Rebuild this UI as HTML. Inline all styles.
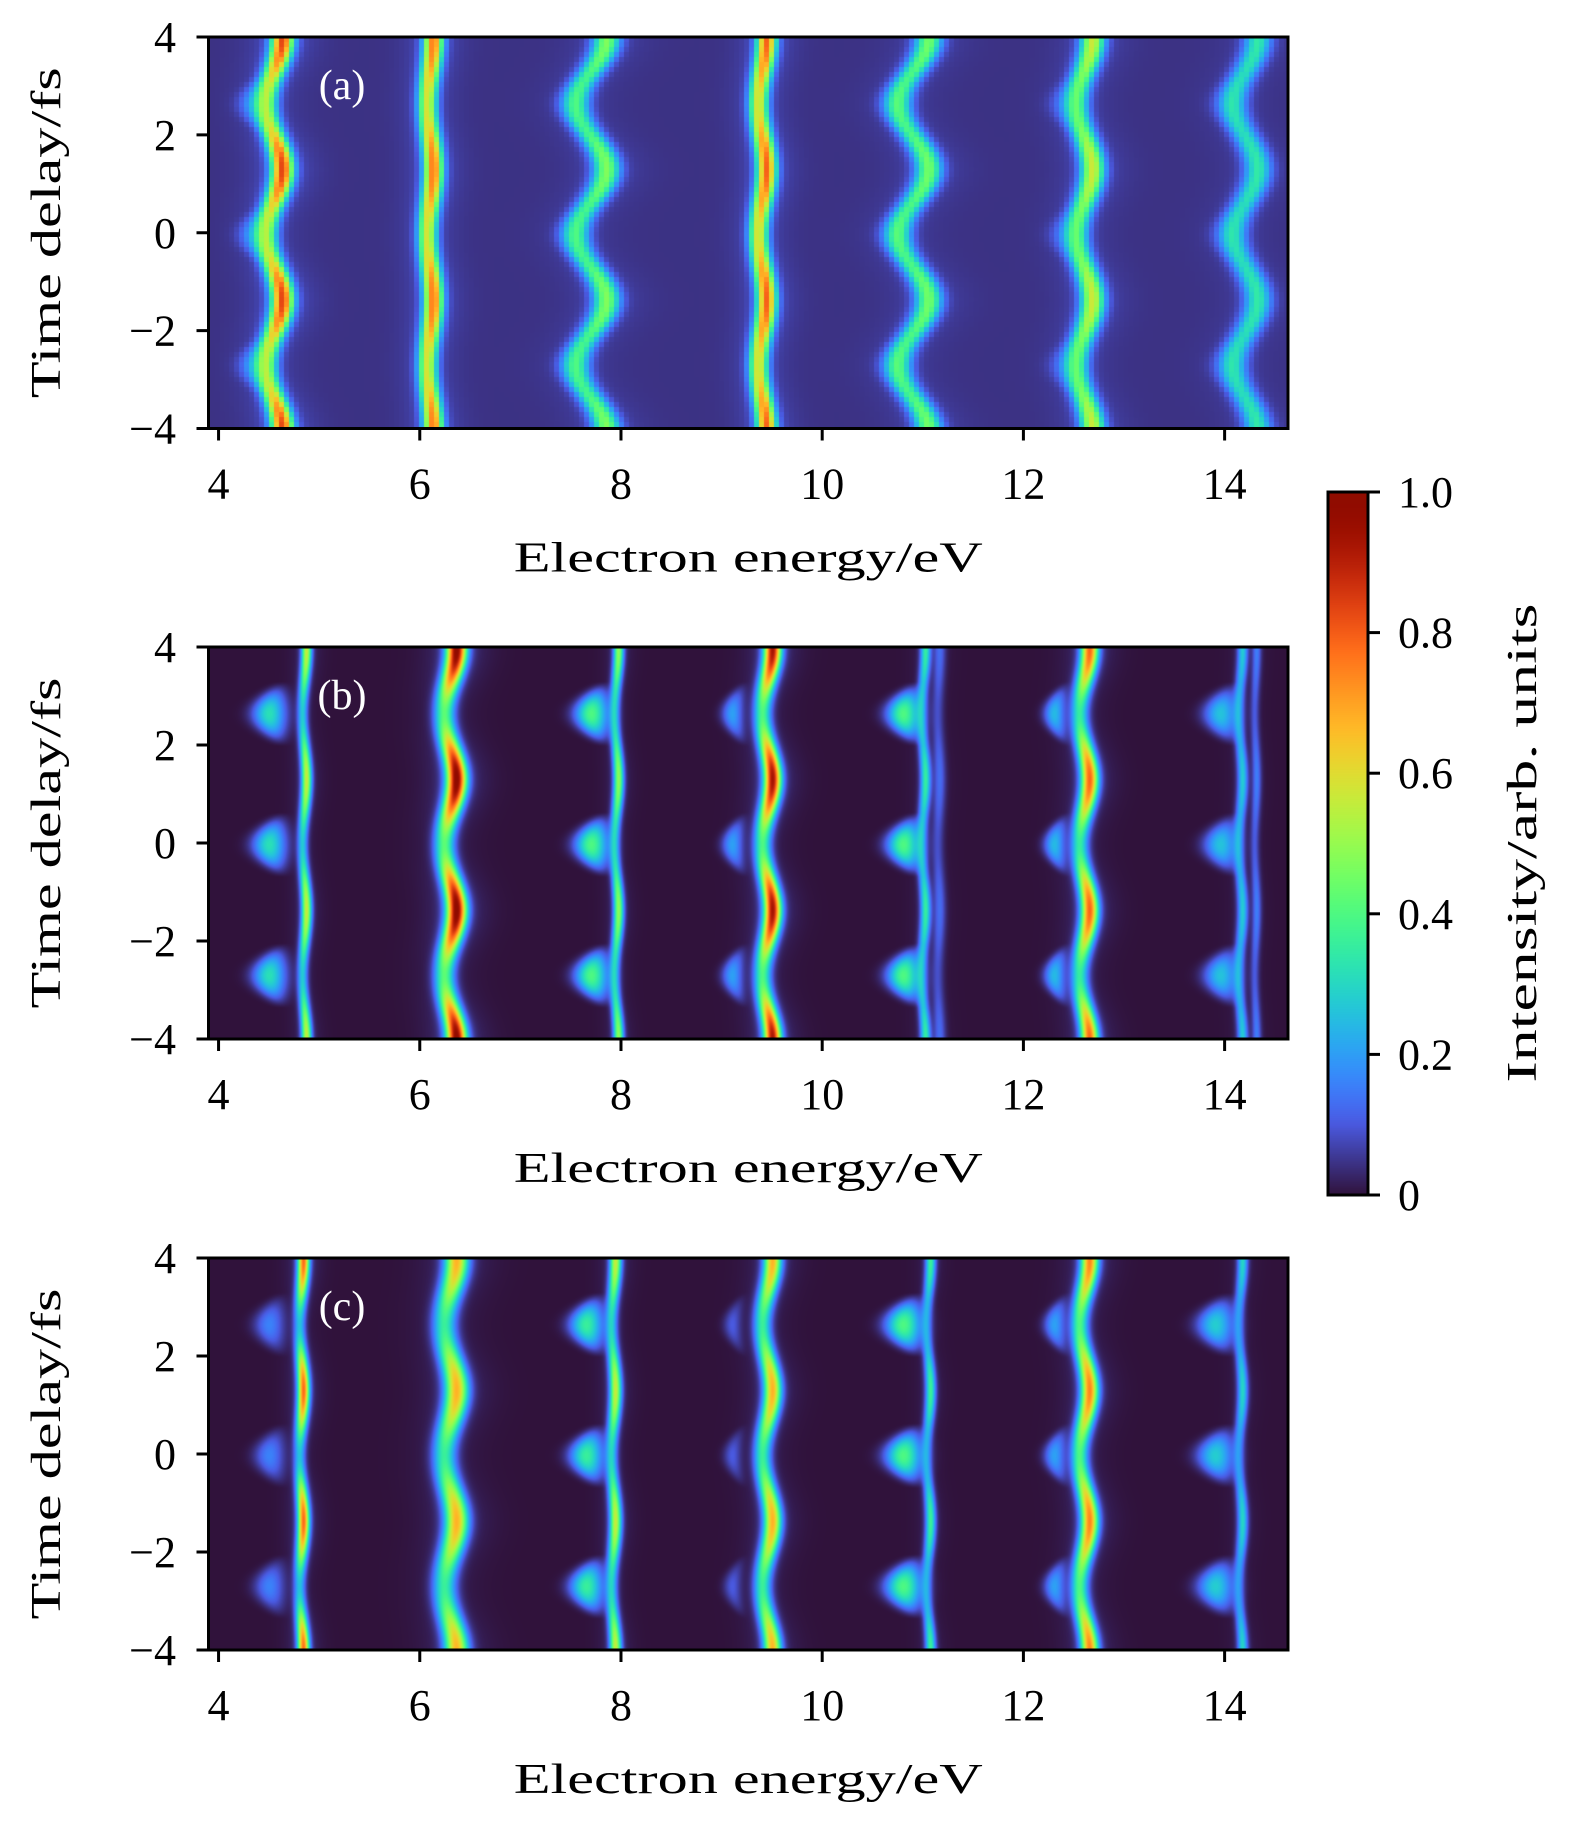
<!DOCTYPE html>
<html><head><meta charset="utf-8">
<style>
html,body{margin:0;padding:0;background:#fff;}
#root{position:relative;width:1575px;height:1821px;overflow:hidden;background:#fff;}
canvas{position:absolute;}
svg{position:absolute;left:0;top:0;}
text{font-family:"Liberation Serif",serif;fill:#000;}
</style></head>
<body>
<div id="root">
<canvas id="ca"></canvas>
<canvas id="cb"></canvas>
<canvas id="cc"></canvas>
<canvas id="cbar"></canvas>
<svg id="sv" width="1575" height="1821"></svg>
</div>
<script>
// ---- data ----
const xTicks = [4, 6, 8, 10, 12, 14];
const yTicks = [4, 2, 0, -2, -4];
const yTickLabels = ["4", "2", "0", "\u22122", "\u22124"];
const cbTicks = [0, 0.2, 0.4, 0.6, 0.8, 1.0];
const cbTickLabels = ["0", "0.2", "0.4", "0.6", "0.8", "1.0"];
const panelLetters = ["(a)", "(b)", "(c)"];
const period = 2.67;     // fs oscillation period
const phaseT = 1.3;      // time of rightmost swing
const backgrounds = [0.045, 0.0, 0.0];
const halos = [0.05, 0.04, 0.04];
// line components: [energy, width, amplitude, swing, modulation]
const linesA = [[4.55,0.075,0.58,0.08,0.3],[6.1,0.065,0.6,0.03,0.15],[7.7,0.09,0.34,0.15,0.2],[9.4,0.065,0.62,0.04,0.15],[10.9,0.09,0.34,0.15,0.15],[12.6,0.08,0.42,0.08,0.2],[14.2,0.09,0.26,0.12,0.1]];
const lobesA = [[4.35,0.1,0.14],[7.5,0.1,0.08],[10.7,0.1,0.08],[12.4,0.1,0.08],[14.0,0.1,0.06]];
const linesB = [[4.85,0.035,0.4,0.02,0.35],[6.3,0.07,0.68,0.06,0.4],[7.95,0.035,0.36,0.02,0.3],[9.45,0.06,0.64,0.05,0.4],[11.0,0.035,0.26,0.02,0.3],[11.15,0.04,0.1,0.01,0.2],[12.6,0.06,0.55,0.05,0.38],[14.15,0.035,0.22,0.02,0.2],[14.3,0.03,0.12,0.01,0.2]];
const lobesB = [[4.5,0.11,0.32],[7.7,0.11,0.4],[9.1,0.07,0.2],[10.8,0.11,0.4],[12.3,0.07,0.24],[13.95,0.11,0.26]];
const linesC = [[4.82,0.04,0.5,0.02,0.5],[6.3,0.08,0.5,0.06,0.3],[7.92,0.04,0.4,0.02,0.35],[9.45,0.06,0.5,0.05,0.3],[11.05,0.035,0.26,0.02,0.35],[12.6,0.06,0.55,0.05,0.3],[14.15,0.035,0.22,0.02,0.3]];
const lobesC = [[4.5,0.1,0.16],[7.65,0.11,0.36],[9.1,0.06,0.1],[10.8,0.12,0.4],[12.3,0.07,0.2],[13.9,0.12,0.28]];
const panelLines = [linesA, linesB, linesC];
const panelLobes = [lobesA, lobesB, lobesC];

// ---- geometry ----
const X0 = 208.5, X1 = 1288, E0 = 3.9, E1 = 14.63;
const panelTops = [37, 647, 1258], panelBots = [428.5, 1039, 1650];
const xs = e => X0 + (e - E0) / (E1 - E0) * (X1 - X0);
const ysf = (p, t) => panelTops[p] + (4 - t) / 8 * (panelBots[p] - panelTops[p]);
const CB = {x0:1328, x1:1368, y0:492, y1:1195};
const cbY = v => CB.y1 - v * (CB.y1 - CB.y0);

function turboPoly(x){
  const r = 0.13572138 + x*(4.61539260 + x*(-42.66032258 + x*(132.13108234 + x*(-152.94239396 + x*59.28637943))));
  const g = 0.09140261 + x*(2.19418839 + x*(4.84296658 + x*(-14.18503333 + x*(4.27729857 + x*2.82956604))));
  const b = 0.10667330 + x*(12.64194608 + x*(-60.58204836 + x*(110.36276771 + x*(-89.90310912 + x*27.34824973))));
  return [255*Math.max(0,Math.min(1,r)), 255*Math.max(0,Math.min(1,g)), 255*Math.max(0,Math.min(1,b))];
}
function turbo(x){
  x = Math.max(0, Math.min(1, x));
  if (x < 0.1) {
    const a = [48,18,59], b = turboPoly(0.1), f = x/0.1;
    return [0,1,2].map(k => Math.round(a[k] + (b[k]-a[k])*f));
  }
  return turboPoly(x).map(Math.round);
}

function intensity(p, E, t){
  const c = Math.cos(2*Math.PI*(t - phaseT)/period);
  let v = backgrounds[p];
  for (const L of panelLines[p]) {
    const ec = L[0] + L[3]*c;
    const a = L[2] * (1 + L[4]*c);
    const d = (E - ec)/L[1];
    v += a * Math.exp(-d*d/2);
    const d2 = (E - ec)/(L[1]*3);
    v += a*halos[p]*Math.exp(-d2*d2/2);
  }
  const neg = Math.max(0, -c);
  for (const B of panelLobes[p]) {
    const k = Math.pow(neg, 1.5);
    const ec = B[0] + (1 - neg) * 0.12;
    const w = B[1] * (0.5 + 0.5*neg);
    const d = (E - ec)/w;
    v += B[2] * k * Math.exp(-d*d/2);
  }
  return Math.min(1, v);
}

function drawPanel(p, id){
  const cv = document.getElementById(id);
  const W = Math.round(X1 - X0), H = Math.round(panelBots[p] - panelTops[p]);
  cv.width = W; cv.height = H;
  cv.style.left = X0 + "px"; cv.style.top = panelTops[p] + "px";
  const ctx = cv.getContext("2d");
  const img = ctx.createImageData(W, H);
  const blk = p === 0 ? 5 : 1;
  for (let j = 0; j < H; j++) {
    const jj = Math.floor(j/blk)*blk + blk/2;
    const t = 4 - jj / H * 8;
    for (let i = 0; i < W; i++) {
      const ii = Math.floor(i/blk)*blk + blk/2;
      const E = E0 + ii / W * (E1 - E0);
      const col = turbo(intensity(p, E, t));
      const o = (j*W + i)*4;
      img.data[o]=col[0]; img.data[o+1]=col[1]; img.data[o+2]=col[2]; img.data[o+3]=255;
    }
  }
  ctx.putImageData(img, 0, 0);
}
drawPanel(0, "ca"); drawPanel(1, "cb"); drawPanel(2, "cc");

(function(){
  const cv = document.getElementById("cbar");
  const W = CB.x1 - CB.x0, H = CB.y1 - CB.y0;
  cv.width = W; cv.height = H; cv.style.left = CB.x0 + "px"; cv.style.top = CB.y0 + "px";
  const ctx = cv.getContext("2d");
  for (let j = 0; j < H; j++) {
    const c = turbo(1 - j/H);
    ctx.fillStyle = "rgb(" + c.join(",") + ")";
    ctx.fillRect(0, j, W, 1);
  }
})();

const NS = "http://www.w3.org/2000/svg";
const sv = document.getElementById("sv");
function el(tag, attrs, txt){
  const e = document.createElementNS(NS, tag);
  for (const k in attrs) e.setAttribute(k, attrs[k]);
  if (txt !== undefined) e.textContent = txt;
  sv.appendChild(e); return e;
}
for (let p = 0; p < 3; p++) {
  const top = panelTops[p], bot = panelBots[p];
  const fr = el("rect", {x:X0, y:top, width:X1-X0, height:bot-top, fill:"none", stroke:"#000", "stroke-width":3});
  
  
  xTicks.forEach(v => {
    const x = xs(v);
    const tk = el("line", {x1:x, x2:x, y1:bot, y2:bot+12, stroke:"#000", "stroke-width":3});
    
    
    const lb = el("text", {x:x, y:bot+70, "font-size":44, "text-anchor":"middle"}, String(v));
    
    
  });
  yTicks.forEach((v, i) => {
    const y = ysf(p, v);
    const tk = el("line", {x1:X0-12, x2:X0, y1:y, y2:y, stroke:"#000", "stroke-width":3});
    
    
    const lb = el("text", {x:176, y:y+15, "font-size":44, "text-anchor":"end"}, yTickLabels[i]);
    
    
  });
  const xl = el("text", {x:(X0+X1)/2, y:bot+143, "font-size":42, "text-anchor":"middle", textLength:469, lengthAdjust:"spacingAndGlyphs"}, "Electron energy/eV");
  
  
  const cy = (top+bot)/2;
  const yl = el("text", {x:0, y:0, "font-size":42, "text-anchor":"middle", textLength:331, lengthAdjust:"spacingAndGlyphs", transform:"translate(60," + cy + ") rotate(-90)"}, "Time delay/fs");
  
  
  const pl = el("text", {x:342, y:top+62, "font-size":42, "text-anchor":"middle", fill:"#fff", style:"fill:#fff"}, panelLetters[p]);
  
  
}
const cbf = el("rect", {x:CB.x0, y:CB.y0, width:CB.x1-CB.x0, height:CB.y1-CB.y0, fill:"none", stroke:"#000", "stroke-width":3});


cbTicks.forEach((v, i) => {
  const y = cbY(v);
  const tk = el("line", {x1:CB.x1, x2:CB.x1+12, y1:y, y2:y, stroke:"#000", "stroke-width":3});
  
  
  const lb = el("text", {x:1398, y:y+15, "font-size":44}, cbTickLabels[i]);
  
  
});
const cbl = el("text", {x:0, y:0, "font-size":42, "text-anchor":"middle", textLength:479, lengthAdjust:"spacingAndGlyphs", transform:"translate(1536,843) rotate(-90)"}, "Intensity/arb. units");


</script>
</body></html>
